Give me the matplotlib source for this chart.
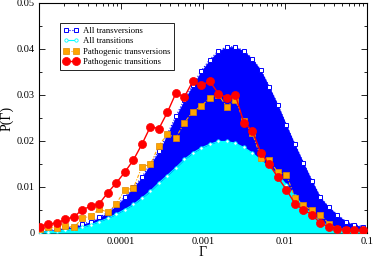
import matplotlib
matplotlib.use('Agg')
import matplotlib.pyplot as plt
from matplotlib.ticker import FixedLocator, LogLocator, NullFormatter, MultipleLocator

plt.rcParams['font.family'] = ['Liberation Serif', 'DejaVu Serif']

# bin centres (log-spaced, ~0.104 decade apart)
gamma = [1.02e-5, 1.30e-5, 1.65e-5, 2.09e-5, 2.66e-5, 3.38e-5, 4.29e-5, 5.45e-5,
         6.92e-5, 8.77e-5, 1.11e-4, 1.42e-4, 1.80e-4, 2.28e-4, 2.90e-4, 3.67e-4,
         4.67e-4, 5.93e-4, 7.52e-4, 9.55e-4, 1.21e-3, 1.54e-3, 1.95e-3, 2.48e-3,
         3.15e-3, 4.00e-3, 5.08e-3, 6.44e-3, 8.18e-3, 1.04e-2, 1.32e-2, 1.68e-2,
         2.13e-2, 2.70e-2, 3.43e-2, 4.36e-2, 5.52e-2, 7.02e-2, 8.91e-2]

all_transversions = [0.0005, 0.0006, 0.0008, 0.0011, 0.0014, 0.0019, 0.0025, 0.0034,
                     0.0045, 0.0060, 0.0078, 0.0099, 0.0122, 0.0150, 0.0178, 0.0215,
                     0.0254, 0.0290, 0.0322, 0.0353, 0.0377, 0.0396, 0.0405, 0.0405,
                     0.0396, 0.0379, 0.0354, 0.0318, 0.0279, 0.0235, 0.0193, 0.0153,
                     0.0114, 0.0078, 0.0056, 0.0040, 0.0025, 0.0018, 0.0014]

all_transitions = [0.0002, 0.0003, 0.0004, 0.0006, 0.0009, 0.0012, 0.0018, 0.0025,
                   0.0032, 0.0041, 0.0051, 0.0062, 0.0076, 0.0091, 0.0109, 0.0125,
                   0.0142, 0.0160, 0.0174, 0.0185, 0.0193, 0.0199, 0.0199, 0.0195,
                   0.0186, 0.0174, 0.0158, 0.0143, 0.0127, 0.0105, 0.0080, 0.0058,
                   0.0040, 0.0025, 0.0015, 0.0010, 0.0007, 0.0005, 0.0004]

patho_transversions = [0.0008, 0.0013, 0.0010, 0.0016, 0.0012, 0.0032, 0.0037, 0.0052,
                       0.0045, 0.0064, 0.0093, 0.0098, 0.0144, 0.0149, 0.0190, 0.0215,
                       0.0207, 0.0240, 0.0264, 0.0276, 0.0294, 0.0300, 0.0275, 0.0290,
                       0.0243, 0.0217, 0.0164, 0.0158, 0.0132, 0.0126, 0.0077, 0.0060,
                       0.0049, 0.0040, 0.0020, 0.0009, 0.0006, 0.0005, 0.0004]

patho_transitions = [0.0014, 0.0020, 0.0021, 0.0030, 0.0035, 0.0051, 0.0058, 0.0064,
                     0.0088, 0.0109, 0.0132, 0.0159, 0.0193, 0.0231, 0.0227, 0.0262,
                     0.0304, 0.0296, 0.0330, 0.0321, 0.0330, 0.0303, 0.0294, 0.0300,
                     0.0240, 0.0222, 0.0174, 0.0149, 0.0121, 0.0094, 0.0064, 0.0050,
                     0.0040, 0.0021, 0.0014, 0.0009, 0.0007, 0.0006, 0.0006]

y_ticks = [0, 0.01, 0.02, 0.03, 0.04, 0.05]
y_labels = ['0', '0.01', '0.02', '0.03', '0.04', '0.05']
x_ticks = [1e-4, 1e-3, 1e-2, 1e-1]
x_labels = ['0.0001', '0.001', '0.01', '0.1']

fig = plt.figure(figsize=(3.74, 2.59), dpi=100)
ax = fig.add_axes([39/374, 26/259, 328/374, 230/259])

# filled distributions of all mutations
ax.fill_between(gamma, all_transversions, 0, color='#0000ff', lw=0, zorder=1)
ax.plot(gamma, all_transversions, ls=':', color='#0000ff', lw=0.8, marker='s', ms=2.6,
        mfc='white', mec='#0000ff', mew=0.7, label='All transversions', zorder=2)
ax.fill_between(gamma, all_transitions, 0, color='#00ffff', lw=0, zorder=3)
ax.plot(gamma, all_transitions, ls='-', color='#00ffff', lw=0.8, marker='o', ms=2.4,
        mfc='white', mec='#00ffff', mew=0.6, label='All transitions', zorder=4)

# pathogenic
ax.plot(gamma, patho_transversions, ls=(0, (3, 1.5, 1, 1.5)), color='#ffa500', lw=0.8,
        marker='s', ms=5, mfc='#ffa500', mec='#e08a00', mew=0.5,
        label='Pathogenic transversions', zorder=5)
ax.plot(gamma, patho_transitions, ls='-', color='#ff0000', lw=1.0, marker='o', ms=5.8,
        mfc='#ff0000', mec='#ff0000', mew=0.5, label='Pathogenic transitions', zorder=6)

ax.set_xscale('log')
ax.set_xlim(1e-5, 0.1)
ax.set_ylim(0, 0.05)

ax.xaxis.set_major_locator(FixedLocator(x_ticks))
ax.set_xticklabels(x_labels)
ax.xaxis.set_minor_locator(LogLocator(base=10, subs=range(2, 10), numticks=20))
ax.xaxis.set_minor_formatter(NullFormatter())
ax.yaxis.set_major_locator(FixedLocator(y_ticks))
ax.set_yticklabels(y_labels)
ax.yaxis.set_minor_locator(MultipleLocator(0.005))

ax.tick_params(which='both', direction='in', top=True, right=True, labelsize=7.5, width=0.6)
ax.tick_params(which='major', length=4, pad=3)
ax.tick_params(which='minor', length=2)
for s in ax.spines.values():
    s.set_linewidth(0.8)

ax.set_xlabel('Γ', fontsize=10, labelpad=0)
ax.set_ylabel('P(Γ)', fontsize=10, labelpad=2)

leg = ax.legend(loc='upper left', bbox_to_anchor=(0.05, 0.93), fontsize=6.3, numpoints=2,
                handlelength=1.8, handletextpad=0.4, borderpad=0.4, labelspacing=0.25,
                frameon=True, fancybox=False, edgecolor='black', framealpha=1)
leg.get_frame().set_linewidth(0.6)

fig.savefig('out.png', dpi=100)
